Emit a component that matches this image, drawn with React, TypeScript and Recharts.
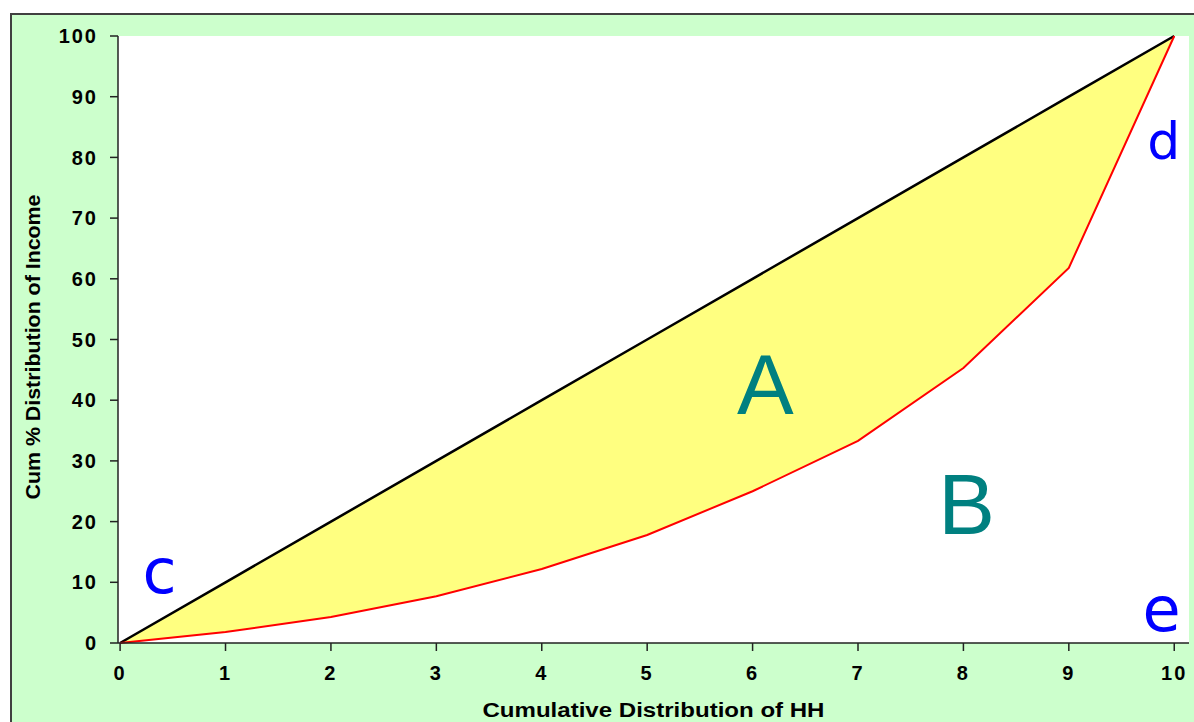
import React from "react";
import {
  ComposedChart,
  Area,
  Line,
  XAxis,
  YAxis,
  CartesianGrid,
  ReferenceDot,
  Label,
} from "recharts";

const households = [0, 1, 2, 3, 4, 5, 6, 7, 8, 9, 10];
const equality = [0, 10, 20, 30, 40, 50, 60, 70, 80, 90, 100];
const lorenz = [0, 1.8, 4.3, 7.7, 12.2, 17.8, 25, 33.3, 45.3, 61.8, 100];
const yTicks = [0, 10, 20, 30, 40, 50, 60, 70, 80, 90, 100];

// region letters: [text, x, y (baseline), colour, size, font]
const letters: [string, number, number, string, number, string][] = [
  ["A", 6.12, 37.7, "#008080", 85, "Liberation Sans, Arial, sans-serif"],
  ["B", 8.03, 18.0, "#008080", 85, "Liberation Sans, Arial, sans-serif"],
  ["c", 0.375, 8.2, "#0000ff", 62, "DejaVu Sans, sans-serif"],
  ["d", 9.9, 79.7, "#0000ff", 52, "DejaVu Sans, sans-serif"],
  ["e", 9.88, 2.0, "#0000ff", 62, "DejaVu Sans, sans-serif"],
];

const data = households.map((hh, i) => ({
  hh,
  equal: equality[i],
  lorenz: lorenz[i],
  band: [lorenz[i], equality[i]],
}));

const tickStyle = {
  fill: "#000",
  fontSize: 20,
  fontWeight: 700,
  fontFamily: "Liberation Sans, Arial, sans-serif",
  letterSpacing: 2,
};

const App: React.FC = () => {
  return (
    <div
      style={{
        position: "absolute",
        left: 0,
        top: 0,
        width: 1194,
        height: 722,
        overflow: "hidden",
        background: "#fff",
      }}
    >
      <div
        style={{
          position: "absolute",
          left: 10,
          top: 13,
          width: 1200,
          height: 720,
          background: "#ccffcc",
          border: "2px solid #404040",
        }}
      />
      <ComposedChart
        width={1194}
        height={722}
        data={data}
        margin={{ top: 36, right: 5, bottom: 0, left: 0 }}
        style={{ position: "absolute", left: 0, top: 0 }}
      >
        <CartesianGrid horizontal={false} vertical={false} fill="#ffffff" />
        <XAxis
          dataKey="hh"
          type="number"
          domain={[-0.02, 10.14]}
          ticks={households}
          allowDataOverflow
          height={79}
          tickSize={8}
          tickMargin={15}
          stroke="#222"
          strokeWidth={1.5}
          tick={tickStyle}
        >
          <Label
            content={({ viewBox }: any) => (
              <text
                x={viewBox.x + viewBox.width / 2}
                y={viewBox.y + 74}
                textAnchor="middle"
                fontSize={20}
                fontWeight={700}
                fontFamily="Liberation Sans, Arial, sans-serif"
                textLength={342}
                lengthAdjust="spacingAndGlyphs"
                fill="#000"
              >
                Cumulative Distribution of HH
              </text>
            )}
          />
        </XAxis>
        <YAxis
          type="number"
          domain={[0, 100]}
          ticks={yTicks}
          width={118}
          tickSize={8}
          tickMargin={12}
          stroke="#222"
          strokeWidth={1.5}
          tick={tickStyle}
        >
          <Label
            content={() => (
              <text
                x={33}
                y={347}
                transform="rotate(-90 33 347)"
                textAnchor="middle"
                dominantBaseline="central"
                fontSize={20}
                fontWeight={700}
                fontFamily="Liberation Sans, Arial, sans-serif"
                textLength={305}
                lengthAdjust="spacingAndGlyphs"
                fill="#000"
              >
                Cum % Distribution of Income
              </text>
            )}
          />
        </YAxis>
        <Area
          dataKey="band"
          type="linear"
          fill="#ffff80"
          fillOpacity={1}
          stroke="none"
          isAnimationActive={false}
        />
        <Line
          dataKey="equal"
          type="linear"
          stroke="#000"
          strokeWidth={2.5}
          dot={false}
          isAnimationActive={false}
        />
        <Line
          dataKey="lorenz"
          type="linear"
          stroke="#ff0000"
          strokeWidth={2}
          dot={false}
          isAnimationActive={false}
        />
        {letters.map(([t, x, y, color, size, font]) => (
          <ReferenceDot
            key={t}
            x={x}
            y={y}
            r={0}
            ifOverflow="visible"
            shape={(p: any) => (
              <text
                x={p.cx}
                y={p.cy}
                textAnchor="middle"
                fill={color}
                fontSize={size}
                fontFamily={font}
              >
                {t}
              </text>
            )}
          />
        ))}
      </ComposedChart>
    </div>
  );
};

export default App;
